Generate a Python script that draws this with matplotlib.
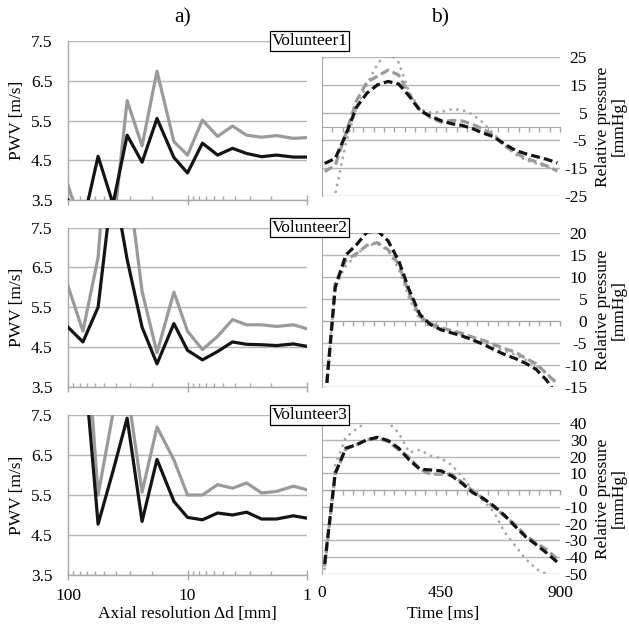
import numpy as np
import matplotlib
matplotlib.use("Agg")
import matplotlib.pyplot as plt
from matplotlib.ticker import FixedLocator, NullFormatter

plt.rcParams['font.family'] = ['Liberation Serif', 'DejaVu Serif']
plt.rcParams['font.size'] = 12.5

# ---------------- data: panel a) PWV vs axial resolution ----------------
resolution_mm = [100, 75, 56, 42, 32, 24, 18, 13, 10, 7.5, 5.6, 4.2, 3.2, 2.4, 1.8, 1.3, 1]

v1_pwv_black = [3.5, 2.9, 4.6, 3.4, 5.13, 4.45, 5.55, 4.57, 4.18, 4.93, 4.63, 4.8, 4.67, 4.59, 4.63, 4.58, 4.58]
v1_pwv_gray = [3.87, 2.7, 3.1, 2.7, 6.0, 4.86, 6.74, 4.97, 4.63, 5.51, 5.1, 5.36, 5.13, 5.08, 5.12, 5.05, 5.07]

v2_pwv_black = [5.0, 4.63, 5.5, 8.7, 6.7, 5.0, 4.08, 5.09, 4.42, 4.18, 4.39, 4.63, 4.57, 4.56, 4.54, 4.58, 4.52]
v2_pwv_gray = [6.03, 4.9, 6.75, 11.6, 8.9, 5.9, 4.36, 5.88, 4.9, 4.44, 4.77, 5.19, 5.06, 5.06, 5.02, 5.06, 4.96]

v3_pwv_black = [9.5, 9.2, 4.77, 6.1, 7.42, 4.84, 6.39, 5.34, 4.94, 4.88, 5.05, 5.0, 5.07, 4.9, 4.9, 4.98, 4.92]
v3_pwv_gray = [10.5, 10.8, 5.5, 7.55, 8.17, 5.57, 7.2, 6.38, 5.5, 5.5, 5.76, 5.67, 5.8, 5.55, 5.59, 5.72, 5.63]

pwv_ticks = [3.5, 4.5, 5.5, 6.5, 7.5]
res_ticks = [100, 10, 1]
res_ticklabels = ['100', '10', '1']

# ---------------- data: panel b) relative pressure vs time ----------------
time_ms = [10, 50, 90, 130, 170, 210, 250, 290, 330, 370, 410, 450,
           490, 530, 570, 610, 650, 690, 730, 770, 810, 850, 890]

v1_p_black = [-13.3, -11.5, -3.0, 6.9, 12.0, 15.0, 16.2, 15.3, 10.9, 5.8, 3.7, 2.1,
              1.0, 0.4, -0.8, -2.4, -3.7, -6.3, -8.5, -9.8, -10.8, -11.8, -13.1]
v1_p_gray = [-16.2, -14.0, -2.5, 9.2, 16.0, 18.1, 20.3, 18.5, 11.5, 6.0, 3.2, 1.6,
             2.2, 2.0, 0.8, -1.0, -3.3, -7.0, -9.3, -11.5, -12.7, -14.2, -16.0]
v1_p_dot = [-38.0, -24.3, -6.0, 6.7, 15.2, 22.5, 27.0, 23.0, 12.3, 6.3, 5.0, 5.2,
            6.2, 6.0, 4.3, 1.3, -2.8, -6.5, -10.0, -12.1, -13.3, -14.6, -15.8]

v2_p_black = [-20.0, 7.6, 15.0, 17.3, 20.2, 20.5, 18.2, 13.7, 7.0, 1.5, -0.8, -2.0,
              -2.7, -3.4, -4.3, -5.3, -6.5, -7.6, -8.5, -9.6, -11.0, -13.5, -17.0]
v2_p_gray = [-20.0, 8.6, 13.8, 15.3, 17.2, 17.8, 16.2, 12.9, 6.2, 1.0, -0.6, -1.5,
             -2.2, -2.8, -3.7, -4.4, -5.3, -6.3, -7.0, -8.5, -9.7, -12.0, -14.3]
v2_p_dot = [-20.0, 8.0, 12.5, 15.0, 17.2, 17.5, 16.0, 11.8, 5.0, 0.3, -1.2, -1.7,
            -2.3, -3.2, -4.4, -5.0, -5.9, -6.8, -7.6, -8.8, -10.2, -12.0, -14.0]

v3_p_black = [-44.0, 10.0, 25.0, 27.0, 30.0, 31.5, 29.5, 25.0, 18.0, 12.5, 12.0, 11.5,
              8.5, 4.0, -1.5, -5.0, -9.5, -15.0, -21.5, -27.8, -32.5, -37.5, -43.0]
v3_p_gray = [-45.5, 9.5, 24.5, 27.0, 30.0, 31.0, 29.0, 24.0, 19.5, 12.5, 9.5, 9.5,
             9.5, 4.5, -0.5, -5.0, -10.0, -15.5, -20.5, -27.0, -31.5, -35.5, -41.0]
v3_p_dot = [-47.0, 15.0, 31.5, 36.5, 40.5, 42.5, 40.5, 34.0, 22.5, 24.0, 20.5, 19.0,
            15.0, 8.0, 0.0, -6.5, -13.0, -25.0, -33.0, -41.0, -47.0, -50.0, np.nan]

v1_p_ticks = [-25, -15, -5, 5, 15, 25]
v2_p_ticks = [-15, -10, -5, 0, 5, 10, 15, 20]
v3_p_ticks = [-50, -40, -30, -20, -10, 0, 10, 20, 30, 40]
time_ticks = [0, 450, 900]
n_time_categories = 23

volunteers = ['Volunteer1', 'Volunteer2', 'Volunteer3']

# ---------------- layout ----------------
W, H = 629, 625
fig = plt.figure(figsize=(W / 100, H / 100), dpi=100)


def axes_px(x0, x1, ytop, ybot):
    return fig.add_axes([x0 / W, 1 - ybot / H, (x1 - x0) / W, (ybot - ytop) / H])


left_rows = [(41, 200), (227.5, 387), (415, 575)]
right_rows = [(57, 196), (233, 387), (423, 574)]
LX0, LX1 = 68, 307
RX0, RX1 = 322, 560

GRID = '#b5b5b5'
SPINE = '#a8a8a8'
BLACK = '#141414'
GRAY = '#9a9a9a'
DOTG = '#a9a9a9'

pwv_sets = [(v1_pwv_black, v1_pwv_gray), (v2_pwv_black, v2_pwv_gray), (v3_pwv_black, v3_pwv_gray)]
p_sets = [(v1_p_black, v1_p_gray, v1_p_dot, v1_p_ticks),
          (v2_p_black, v2_p_gray, v2_p_dot, v2_p_ticks),
          (v3_p_black, v3_p_gray, v3_p_dot, v3_p_ticks)]

for i in range(3):
    # ---- left: PWV ----
    ax = axes_px(LX0, LX1, *left_rows[i])
    black, gray = pwv_sets[i]
    ax.set_xscale('log')
    ax.plot(resolution_mm, gray, color=GRAY, lw=2.3, zorder=3)
    ax.plot(resolution_mm, black, color=BLACK, lw=2.3, zorder=4)
    ax.set_xlim(100, 1)
    ax.set_ylim(3.5, 7.5)
    ax.set_yticks(pwv_ticks)
    ax.set_yticklabels([f'{v:.1f}' for v in pwv_ticks])
    ax.yaxis.grid(True, color=GRID, lw=1.0)
    ax.set_axisbelow(True)
    for s in ('top', 'right'):
        ax.spines[s].set_visible(False)
    for s in ('left', 'bottom'):
        ax.spines[s].set_color(SPINE)
        ax.spines[s].set_linewidth(1.0)
    ax.tick_params(axis='y', length=0, pad=11)
    ax.xaxis.set_major_locator(FixedLocator(res_ticks))
    ax.xaxis.set_minor_locator(FixedLocator(
        [d * m for d in (1, 10) for m in range(2, 10)]))
    ax.xaxis.set_minor_formatter(NullFormatter())
    ax.tick_params(axis='x', which='major', direction='inout', length=7, color=SPINE, width=1, pad=6)
    ax.tick_params(axis='x', which='minor', direction='in', length=3, color=SPINE, width=1)
    if i == 2:
        ax.set_xticklabels(res_ticklabels)
    else:
        ax.set_xticklabels([])
    yc = (left_rows[i][0] + left_rows[i][1]) / 2
    fig.text(17 / W, 1 - yc / H, 'PWV [m/s]', rotation=90, ha='center', va='center')

    # ---- right: relative pressure ----
    axr = axes_px(RX0, RX1, *right_rows[i])
    pb, pg, pd, pt = p_sets[i]
    axr.plot(time_ms, pd, color=DOTG, lw=2.0, linestyle=(0, (0.1, 2.4)),
             dash_capstyle='round', zorder=3)
    axr.plot(time_ms, pg, color=GRAY, lw=2.3, linestyle=(0, (2.8, 1.3)), zorder=4)
    axr.plot(time_ms, pb, color=BLACK, lw=2.3, linestyle=(0, (2.8, 1.3)), zorder=5)
    axr.set_xlim(0, 900)
    axr.set_ylim(pt[0], pt[-1])
    axr.yaxis.tick_right()
    axr.set_yticks(pt)
    axr.set_yticklabels([str(v) for v in pt])
    for lbl in axr.get_yticklabels():
        lbl.set_horizontalalignment('right')
    axr.tick_params(axis='y', length=0, pad=19.5)
    axr.yaxis.grid(True, color=GRID, lw=1.0)
    axr.set_axisbelow(True)
    for s in ('top', 'right'):
        axr.spines[s].set_visible(False)
    axr.spines['left'].set_color(SPINE)
    axr.spines['bottom'].set_color(SPINE)
    axr.spines['bottom'].set_position(('data', 0))
    axr.xaxis.set_major_locator(FixedLocator([]))
    axr.xaxis.set_minor_locator(FixedLocator(
        [900 * k / n_time_categories for k in range(1, n_time_categories + 1)]))
    axr.tick_params(axis='x', which='minor', direction='out', length=3.5, color=SPINE, width=1)
    if i == 2:
        sec = axr.secondary_xaxis(0.0)
        sec.set_xticks(time_ticks)
        sec.set_xticklabels([str(v) for v in time_ticks])
        sec.tick_params(length=0, pad=8)
        sec.spines['bottom'].set_visible(False)
    yc = (right_rows[i][0] + right_rows[i][1]) / 2
    fig.text(611 / W, 1 - yc / H, 'Relative pressure\n[mmHg]', rotation=90,
             ha='center', va='center', multialignment='center', linespacing=0.95)

    # ---- volunteer box ----
    fig.text(309.5 / W, 1 - left_rows[i][0] / H, volunteers[i], ha='center', va='center',
             zorder=10,
             bbox=dict(boxstyle='square,pad=0.1', fc='white', ec='black', lw=0.9))

fig.text(183 / W, 1 - 18 / H, 'a)', ha='center', va='center', fontsize=15.5)
fig.text(440 / W, 1 - 18 / H, 'b)', ha='center', va='center', fontsize=15.5)
fig.text(187 / W, 1 - 614 / H, 'Axial resolution \u0394d [mm]', ha='center', va='center')
fig.text(443 / W, 1 - 614 / H, 'Time [ms]', ha='center', va='center')

fig.savefig('out.png', dpi=100)
